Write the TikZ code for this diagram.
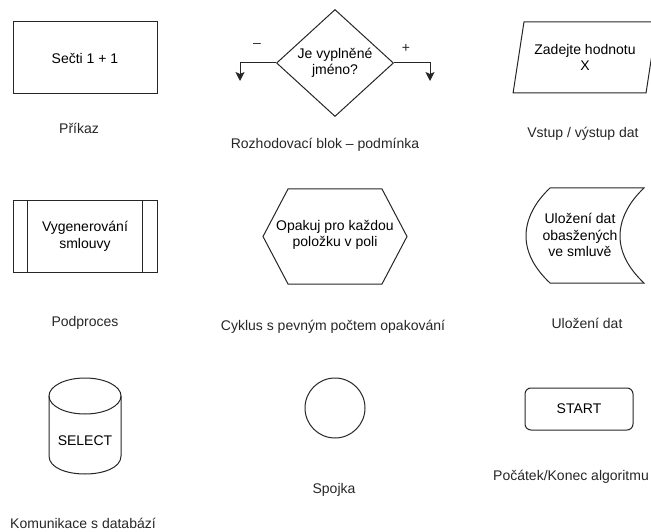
\documentclass[tikz,border=0pt]{standalone}
\usepackage{fontspec}
\setmainfont{Liberation Sans}
\usetikzlibrary{arrows.meta,positioning,shapes.geometric}

\begin{document}
\begin{tikzpicture}[x=1pt,y=-1pt,
    shape line/.style={draw=black!85, line width=1pt},
    body text/.style={font=\fontsize{14}{16.5}\selectfont, align=center, inner sep=0pt},
    caption/.style={font=\fontsize{14}{16.5}\selectfont, text=black!85, inner sep=0pt},
    branch/.style={shape line, -{Stealth[width=9pt,length=9pt,inset=2pt]}}]
    \useasboundingbox (0,0) rectangle (651,532);

    % Command block
    \node[shape line, body text, minimum width=144, minimum height=72] (cmd) at (85,58) {Sečti 1 + 1};
    \node[caption] (cmdlbl) at (79,128) {Příkaz};

    % Decision block with both branches
    \node[diamond, shape line, body text, minimum width=117, minimum height=107] (dec) at (335,63) {Je vyplněné\\jméno?};
    \coordinate (decno) at (240,81);
    \coordinate (decyes) at (430,81);
    \draw[branch] (dec.west) -| (decno);
    \draw[branch] (dec.east) -| (decyes);
    \node[caption] (declno) at (257,45) {–};
    \node[caption] (declyes) at (406,48) {+};
    \node[caption] (declbl) at (325,145) {Rozhodovací blok – podmínka};

    % Input / output block
    \node[trapezium, trapezium left angle=71.3, trapezium right angle=108.7, trapezium stretches=true,
        shape line, body text, minimum width=144, minimum height=71] (io) at (585,57.5) {Zadejte hodnotu\\X};
    \node[caption] (iolbl) at (583,134) {Vstup / výstup dat};

    % Subprocess block
    \node[shape line, body text, minimum width=144, minimum height=71] (sub) at (85,236.5) {Vygenerování\\smlouvy};
    \draw[shape line] ([xshift=15pt]sub.north west) -- ([xshift=15pt]sub.south west);
    \draw[shape line] ([xshift=-15pt]sub.north east) -- ([xshift=-15pt]sub.south east);
    \node[caption] (sublbl) at (85,323) {Podproces};

    % Loop block (hexagon)
    \draw[shape line] (263,236.5) -- (288,189) -- (382,189) -- (407,236.5) -- (382,284) -- (288,284) -- cycle;
    \node[body text] (loop) at (335,235) {Opakuj pro každou\\položku v poli};
    \node[caption] (looplbl) at (333,327) {Cyklus s pevným počtem opakování};

    % Stored data block
    \draw[shape line] (550,188) -- (644,188)
        .. controls (628,203) and (620,220) .. (620,236)
        .. controls (620,252) and (628,268) .. (644,283)
        -- (550,283)
        .. controls (534,268) and (526,252) .. (526,236)
        .. controls (526,220) and (534,203) .. (550,188) -- cycle;
    \node[body text] (store) at (580,235) {Uložení dat\\obasžených\\ve smluvě};
    \node[caption] (storelbl) at (587,323) {Uložení dat};

    % Database block (cylinder)
    \draw[shape line] (85,396) ellipse [x radius=36, y radius=18];
    \draw[shape line] (49,396) -- (49,456) .. controls (49,480) and (121,480) .. (121,456) -- (121,396);
    \node[body text] (db) at (85,441) {SELECT};
    \node[caption] (dblbl) at (83,523) {Komunikace s databází};

    % Connector
    \node[circle, shape line, minimum size=60, inner sep=0pt] (join) at (335,408) {};
    \node[caption] (joinlbl) at (334,490) {Spojka};

    % Terminal
    \node[shape line, body text, rounded corners=6pt, minimum width=108, minimum height=42] (term) at (579,409) {START};
    \node[caption] (termlbl) at (571,477) {Počátek/Konec algoritmu};
\end{tikzpicture}
\end{document}
